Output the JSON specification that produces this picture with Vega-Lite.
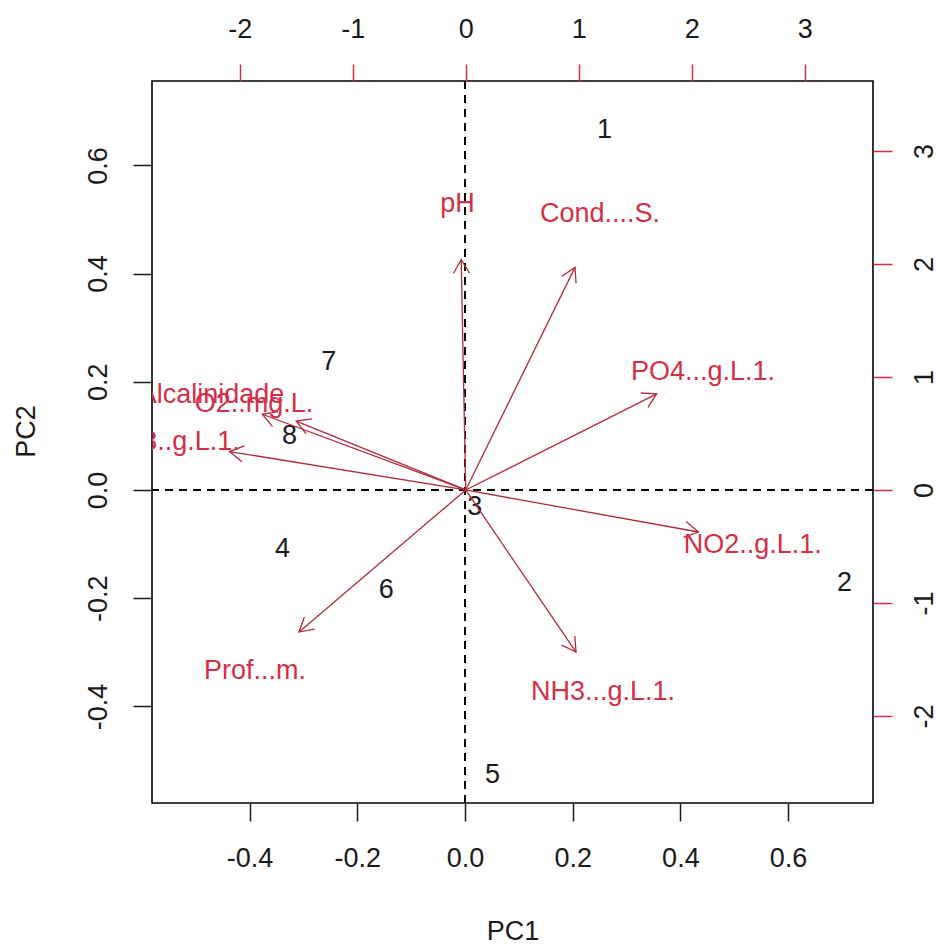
{
  "$schema": "https://vega.github.io/schema/vega-lite/v6.json",
  "width": 721,
  "height": 722,
  "autosize": "none",
  "padding": {"left": 152, "top": 81, "right": 63, "bottom": 141},
  "background": "white",
  "config": {
    "view": {"stroke": "black", "strokeWidth": 1.6},
    "axis": {"grid": false, "domain": false, "labelFont": "Liberation Sans", "titleFont": "Liberation Sans", "titleFontWeight": "normal", "labelColor": "#1a1a1a", "titleColor": "#1a1a1a", "tickWidth": 1.5}
  },
  "layer": [
    {
      "data": {"values": [
        {"label": "1", "PC1": 0.259, "PC2": 0.665},
        {"label": "2", "PC1": 0.705, "PC2": -0.172},
        {"label": "3", "PC1": 0.018, "PC2": -0.031},
        {"label": "4", "PC1": -0.339, "PC2": -0.109},
        {"label": "5", "PC1": 0.051, "PC2": -0.527},
        {"label": "6", "PC1": -0.146, "PC2": -0.185},
        {"label": "7", "PC1": -0.253, "PC2": 0.237},
        {"label": "8", "PC1": -0.326, "PC2": 0.1}
      ]},
      "layer": [
        {
          "mark": {"type": "text", "font": "Liberation Sans", "fontSize": 27, "color": "#1a1a1a", "align": "center", "baseline": "middle", "clip": true},
          "encoding": {
            "x": {"field": "PC1", "type": "quantitative", "scale": {"domain": [-0.5812, 0.7577], "nice": false, "zero": false},
              "axis": {"orient": "bottom", "values": [-0.4, -0.2, 0, 0.2, 0.4, 0.6], "format": ".1f", "labelExpr": "replace(datum.label, '\u2212', '-')", "tickSize": 18, "tickColor": "#1a1a1a", "labelFontSize": 27, "labelBaseline": "middle", "labelPadding": 37, "title": "PC1", "titleFontSize": 27, "titleBaseline": "middle", "titleX": 360.5, "titleY": 128, "labelFlush": false}},
            "y": {"field": "PC2", "type": "quantitative", "scale": {"domain": [-0.5786, 0.756], "nice": false, "zero": false},
              "axis": {"orient": "left", "values": [-0.4, -0.2, 0, 0.2, 0.4, 0.6], "format": ".1f", "labelExpr": "replace(datum.label, '\u2212', '-')", "tickSize": 19, "tickColor": "#1a1a1a", "labelFontSize": 27, "labelAngle": 270, "labelAlign": "center", "labelBaseline": "middle", "labelPadding": 35, "title": "PC2", "titleFontSize": 27, "titleAngle": 270, "titleAlign": "center", "titleBaseline": "middle", "titleX": -126, "titleY": 350, "labelFlush": false}},
            "text": {"field": "label", "type": "nominal"}
          }
        },
        {
          "mark": {"type": "rule", "color": "black", "strokeWidth": 1.7, "strokeDash": [8, 6]},
          "encoding": {"x": {"datum": 0, "type": "quantitative"}}
        },
        {
          "mark": {"type": "rule", "color": "black", "strokeWidth": 1.7, "strokeDash": [8, 6]},
          "encoding": {"y": {"datum": 0, "type": "quantitative"}}
        }
      ]
    },
    {
      "data": {"values": [
        {"name": "pH", "tipU": -0.04, "tipV": 2.04, "labU": -0.073, "labV": 2.53},
        {"name": "Cond....S.", "tipU": 0.967, "tipV": 1.97, "labU": 1.188, "labV": 2.44},
        {"name": "PO4...g.L.1.", "tipU": 1.69, "tipV": 0.85, "labU": 2.1, "labV": 1.044},
        {"name": "NO2..g.L.1.", "tipU": 2.06, "tipV": -0.372, "labU": 2.54, "labV": -0.487},
        {"name": "NH3...g.L.1.", "tipU": 0.976, "tipV": -1.434, "labU": 1.215, "labV": -1.788},
        {"name": "Prof...m.", "tipU": -1.475, "tipV": -1.257, "labU": -1.865, "labV": -1.6},
        {"name": "Alcalinidade", "tipU": -1.8, "tipV": 0.67, "labU": -2.25, "labV": 0.84},
        {"name": "O2..mg.L.", "tipU": -1.5, "tipV": 0.61, "labU": -1.874, "labV": 0.761},
        {"name": "NO3..g.L.1.", "tipU": -2.09, "tipV": 0.34, "labU": -2.61, "labV": 0.425}
      ]},
      "transform": [{"calculate": "atan2(datum.tipU, datum.tipV) * 180 / PI", "as": "ang"}],
      "layer": [
        {
          "mark": {"type": "point", "shape": "M-0.5,0.866L0,0L0.5,0.866", "filled": false, "size": 1024, "strokeWidth": 1.3, "color": "#B02A3A", "opacity": 1},
          "encoding": {
            "x": {"field": "tipU", "type": "quantitative", "scale": {"domain": [-2.776, 3.604], "nice": false, "zero": false},
              "axis": {"orient": "top", "values": [-2, -1, 0, 1, 2, 3], "format": "d", "labelExpr": "replace(datum.label, '\u2212', '-')", "tickSize": 17, "tickColor": "#D42F45", "labelFontSize": 27, "labelBaseline": "middle", "labelPadding": 35, "title": null, "labelFlush": false}},
            "y": {"field": "tipV", "type": "quantitative", "scale": {"domain": [-2.77, 3.619], "nice": false, "zero": false},
              "axis": {"orient": "right", "values": [-2, -1, 0, 1, 2, 3], "format": "d", "labelExpr": "replace(datum.label, '\u2212', '-')", "tickSize": 19, "tickColor": "#D42F45", "labelFontSize": 27, "labelAngle": 270, "labelAlign": "center", "labelBaseline": "middle", "labelPadding": 32, "title": null, "labelFlush": false}},
            "angle": {"field": "ang", "type": "quantitative", "scale": null}
          }
        },
        {
          "mark": {"type": "rule", "color": "#B02A3A", "strokeWidth": 1.3},
          "encoding": {
            "x": {"field": "tipU", "type": "quantitative"},
            "y": {"field": "tipV", "type": "quantitative"},
            "x2": {"datum": 0},
            "y2": {"datum": 0}
          }
        },
        {
          "mark": {"type": "text", "font": "Liberation Sans", "fontSize": 27, "color": "#D42F45", "align": "center", "baseline": "middle", "clip": true},
          "encoding": {
            "x": {"field": "labU", "type": "quantitative"},
            "y": {"field": "labV", "type": "quantitative"},
            "text": {"field": "name", "type": "nominal"}
          }
        }
      ]
    }
  ],
  "resolve": {"scale": {"x": "independent", "y": "independent"}}
}
